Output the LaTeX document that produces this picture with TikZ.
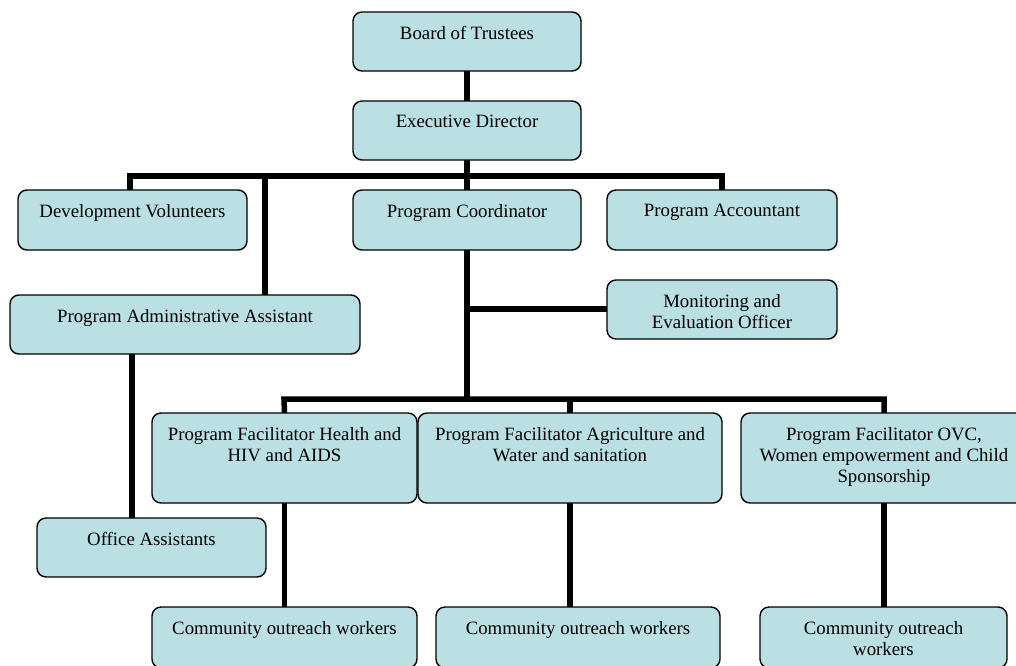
\documentclass[tikz,border=0pt]{standalone}
\usepackage{fontspec}
\setmainfont{Liberation Serif}
\usetikzlibrary{backgrounds}
\definecolor{boxfill}{RGB}{186,224,228}
\tikzset{
  box/.style={draw=black, line width=1.4pt, rounded corners=9pt, fill=boxfill, inner sep=0pt, outer sep=0pt},
  lbl/.style={inner sep=0pt, outer sep=0pt, align=center, font=\fontsize{18.8}{21.3}\selectfont},
  conn/.style={line width=5.5pt, line join=miter, line cap=butt}
}
% name, x1, y1, x2, y2, text
\newcommand\orgbox[6]{%
  \node[box, minimum width={#4-#2}, minimum height={#5-#3}] (#1) at ({(#2+#4)/2},{(#3+#5)/2}) {};
  \node[lbl, anchor=north] (#1t) at ({(#2+#4)/2},{#3+14.3}) {#6};%
}
\begin{document}
\begin{tikzpicture}[x=1pt,y=-1pt]
\useasboundingbox (0,0) rectangle (1016,665);
\clip (0,0) rectangle (1016,665);
\coordinate (j1) at (265,176);
\coordinate (oaj) at (132,0);
\coordinate (me) at (467,309);
\coordinate (cpr) at (884,0);
% boxes
\orgbox{bt}{353}{12}{581}{71}{Board of Trustees}
\orgbox{ed}{353}{101}{581}{160}{Executive Director}
\orgbox{dv}{18}{190}{247}{250}{Development Volunteers}
\orgbox{pc}{353}{190}{581}{250}{Program Coordinator}
\orgbox{pa}{607}{190}{837}{250}{Program Accountant}
\orgbox{paa}{10}{295}{360}{354}{Program Administrative Assistant}
\orgbox{mo}{607}{280}{837}{339}{Monitoring and\\Evaluation Officer}
\orgbox{fh}{152}{413}{417}{503}{Program Facilitator Health and\\HIV and AIDS}
\orgbox{fa}{418}{413}{722}{503}{Program Facilitator Agriculture and\\Water and sanitation}
\orgbox{fo}{741}{413}{1027}{503}{Program Facilitator OVC,\\Women empowerment and Child\\Sponsorship}
\orgbox{oa}{37}{518}{266}{577}{Office Assistants}
\orgbox{c1}{152}{607}{417}{668}{Community outreach workers}
\orgbox{c2}{436}{607}{720}{668}{Community outreach workers}
\orgbox{c3}{760}{607}{1007}{668}{Community outreach\\workers}
% connectors (behind boxes)
\begin{scope}[on background layer]
\draw[conn] (bt.south) -- (ed.north);
\draw[conn] (ed.south) -- (pc.north);
\draw[conn] (dv.north -| 130,0) -- (130,176) -| (pa.north);
\draw[conn] (j1) -- (j1 |- paa.north);
\draw[conn] (paa.south -| oaj) -- (oa.north -| oaj);
\draw[conn] (pc.south) -- (467,399);
\draw[conn] (me) -- (me -| mo.west);
\draw[conn] (fh.north) -- (284,399) -| (fo.north -| cpr);
\draw[conn] (570,399) -- (fa.north);
\draw[conn] (fh.south) -- (fh.south |- c1.north);
\draw[conn] (fa.south) -- (fa.south |- c2.north);
\draw[conn] (fo.south -| cpr) -- (c3.north -| cpr);
\end{scope}
\end{tikzpicture}
\end{document}
